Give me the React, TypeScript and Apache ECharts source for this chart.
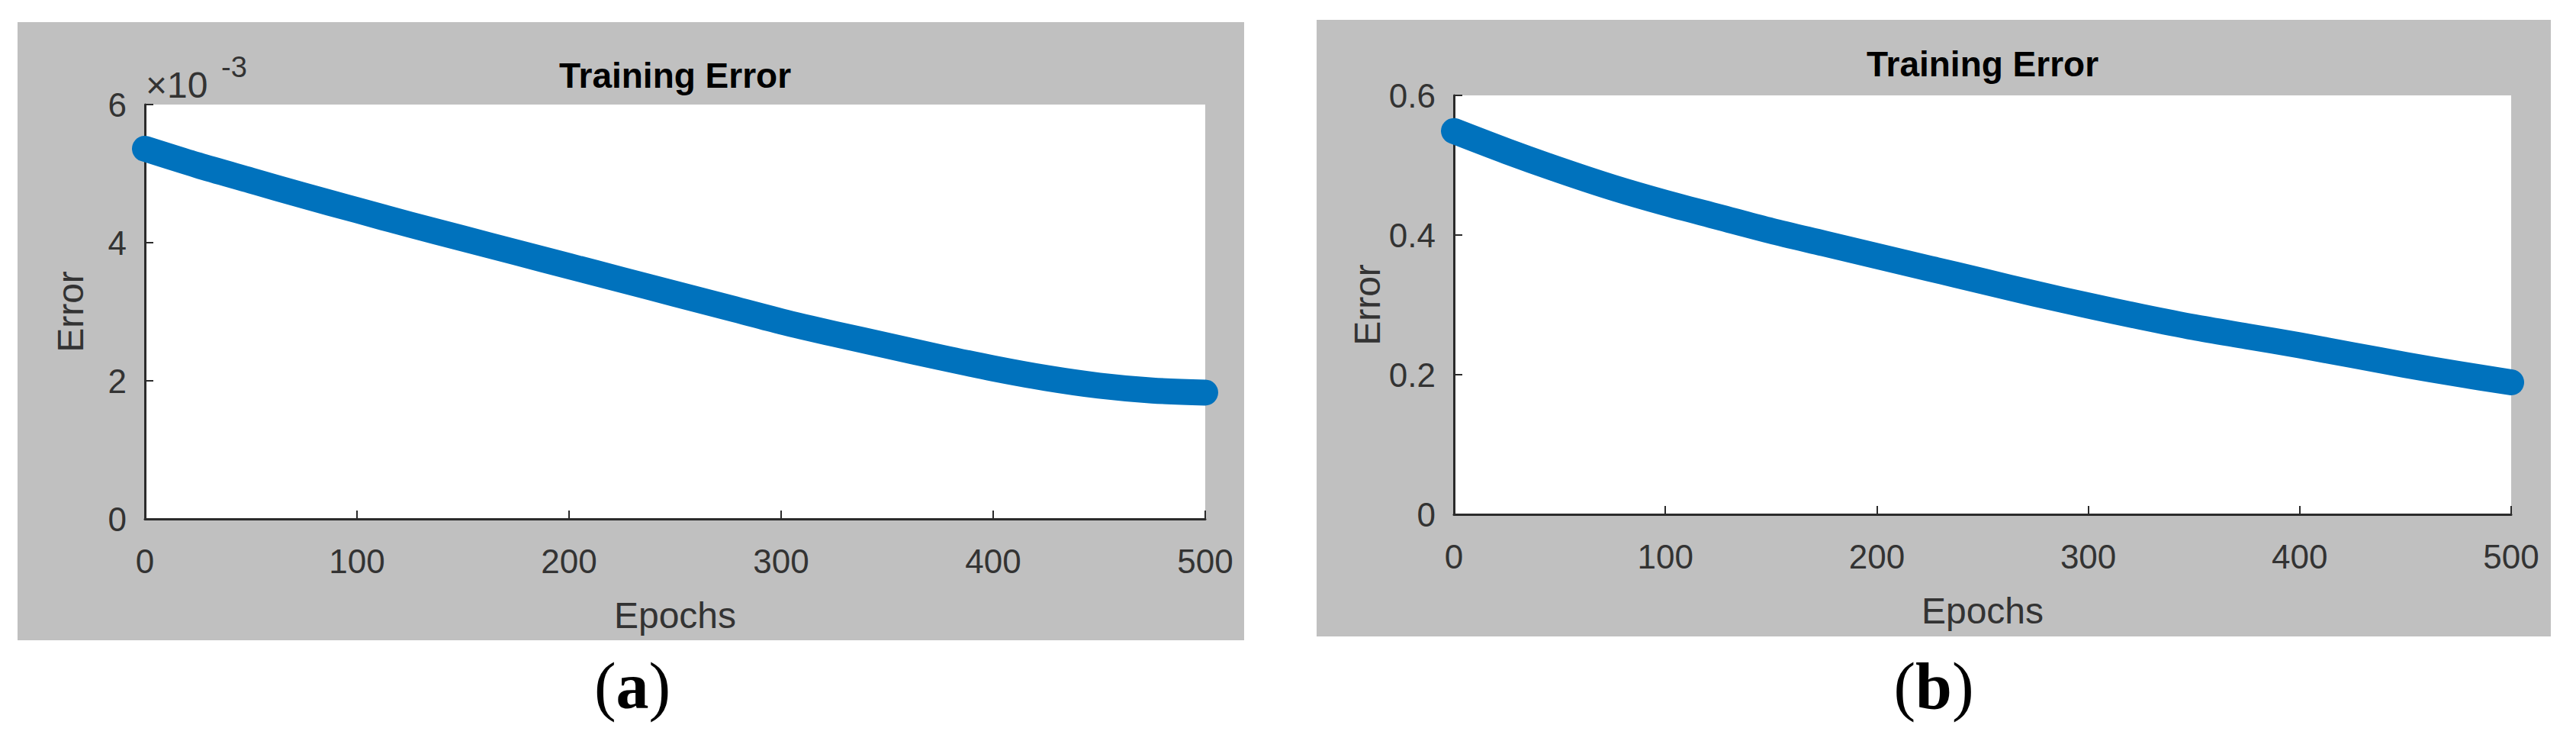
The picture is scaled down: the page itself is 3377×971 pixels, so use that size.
import React, { useEffect, useRef } from "react";
import * as echarts from "echarts";

// ---- data ----
const epochs = [0, 25, 50, 75, 100, 125, 150, 175, 200, 225, 250, 275, 300, 325, 350, 375, 400, 425, 450, 475, 500];
// panel (a): training error, in units of 1e-3
const errorA = [5.36, 5.12, 4.9, 4.68, 4.47, 4.26, 4.06, 3.86, 3.66, 3.46, 3.26, 3.06, 2.86, 2.68, 2.51, 2.34, 2.18, 2.04, 1.93, 1.86, 1.83];
const scaleA = 1e-3;
// panel (b): training error
const errorB = [0.549, 0.52, 0.493, 0.468, 0.446, 0.426, 0.406, 0.388, 0.37, 0.352, 0.334, 0.316, 0.299, 0.283, 0.268, 0.255, 0.242, 0.228, 0.214, 0.201, 0.189];

const xTicks = { min: 0, max: 500, interval: 100 };
const yTicksA = { min: 0, max: 0.006, interval: 0.002 };
const yTicksB = { min: 0, max: 0.6, interval: 0.2 };

const titleText = "Training Error";
const xName = "Epochs";
const yName = "Error";

// ---- styles ----
const FONT = "'Liberation Sans', Arial, Helvetica, sans-serif";
const SERIF = "'Liberation Serif', 'Times New Roman', serif";
const AXIS = "#2b2b2b";
const TXT = "#333333";
const LINE = "#0072BD";
const PANEL = "#c0c0c0";

function xAxisOf(gridIndex: number) {
  return {
    gridIndex,
    type: "value",
    min: xTicks.min,
    max: xTicks.max,
    interval: xTicks.interval,
    axisLine: { show: true, onZero: false, lineStyle: { color: AXIS, width: 3 } },
    axisTick: { show: true, inside: true, length: 11, lineStyle: { color: AXIS, width: 2 } },
    splitLine: { show: false },
    axisLabel: { fontSize: 44, color: TXT, fontFamily: FONT, margin: 33 },
    name: xName,
    nameLocation: "middle",
    nameGap: 102,
    nameTextStyle: { fontSize: 48, color: TXT, fontFamily: FONT },
  };
}

function yAxisOf(gridIndex: number, t: { min: number; max: number; interval: number }, fmt: (v: number) => string) {
  return {
    gridIndex,
    type: "value",
    min: t.min,
    max: t.max,
    interval: t.interval,
    axisLine: { show: true, onZero: false, lineStyle: { color: AXIS, width: 3 } },
    axisTick: { show: true, inside: true, length: 11, lineStyle: { color: AXIS, width: 2 } },
    splitLine: { show: false },
    axisLabel: { fontSize: 44, color: TXT, fontFamily: FONT, margin: 24, padding: [12, 0, 0, 0], formatter: fmt },
    name: yName,
    nameLocation: "middle",
    nameGap: 74,
    nameTextStyle: { fontSize: 48, color: TXT, fontFamily: FONT },
  };
}

export default function App() {
  const ref = useRef<HTMLDivElement>(null);

  useEffect(() => {
    if (!ref.current) return;
    const chart = echarts.init(ref.current, undefined, { renderer: "svg" });

    const option: any = {
      animation: false,
      backgroundColor: "#ffffff",
      grid: [
        { left: 190, top: 137, width: 1390, height: 543, show: true, backgroundColor: "#ffffff", borderWidth: 0, outerBoundsMode: "none" },
        { left: 1906, top: 125, width: 1386, height: 549, show: true, backgroundColor: "#ffffff", borderWidth: 0, outerBoundsMode: "none" },
      ],
      xAxis: [xAxisOf(0), xAxisOf(1)],
      yAxis: [
        yAxisOf(0, yTicksA, (v: number) => String(Math.round(v / scaleA))),
        yAxisOf(1, yTicksB, (v: number) => (v === 0 ? "0" : v.toFixed(1))),
      ],
      series: [
        {
          type: "line",
          xAxisIndex: 0,
          yAxisIndex: 0,
          data: epochs.map((e, i) => [e, errorA[i] * scaleA]),
          showSymbol: false,
          smooth: 0.3,
          clip: false,
          lineStyle: { color: LINE, width: 34, cap: "round", join: "round" },
          emphasis: { disabled: true },
        },
        {
          type: "line",
          xAxisIndex: 1,
          yAxisIndex: 1,
          data: epochs.map((e, i) => [e, errorB[i]]),
          showSymbol: false,
          smooth: 0.3,
          clip: false,
          lineStyle: { color: LINE, width: 34, cap: "round", join: "round" },
          emphasis: { disabled: true },
        },
      ],
      graphic: [
        { type: "rect", z: -100, shape: { x: 23, y: 29, width: 1608, height: 810 }, style: { fill: PANEL } },
        { type: "rect", z: -100, shape: { x: 1726, y: 26, width: 1618, height: 808 }, style: { fill: PANEL } },
        {
          type: "text", x: 885, y: 99,
          style: { text: titleText, fontSize: 46, fontWeight: "bold", fontFamily: FONT, fill: "#000", align: "center", verticalAlign: "middle" },
        },
        {
          type: "text", x: 2599, y: 84,
          style: { text: titleText, fontSize: 46, fontWeight: "bold", fontFamily: FONT, fill: "#000", align: "center", verticalAlign: "middle" },
        },
        {
          type: "text", x: 191, y: 111,
          style: { text: "\u00d710", fontSize: 48, fontFamily: FONT, fill: TXT, align: "left", verticalAlign: "middle" },
        },
        {
          type: "text", x: 290, y: 88,
          style: { text: "-3", fontSize: 38, fontFamily: FONT, fill: TXT, align: "left", verticalAlign: "middle" },
        },
        {
          type: "text", x: 829, y: 899,
          style: {
            text: "{p|(}{b|a}{p|)}", align: "center", verticalAlign: "middle",
            rich: {
              p: { fontSize: 86, fontFamily: SERIF, fill: "#000" },
              b: { fontSize: 86, fontFamily: SERIF, fontWeight: "bold", fill: "#000" },
            },
          },
        },
        {
          type: "text", x: 2535, y: 899,
          style: {
            text: "{p|(}{b|b}{p|)}", align: "center", verticalAlign: "middle",
            rich: {
              p: { fontSize: 86, fontFamily: SERIF, fill: "#000" },
              b: { fontSize: 86, fontFamily: SERIF, fontWeight: "bold", fill: "#000" },
            },
          },
        },
      ],
    };

    chart.setOption(option);
    return () => chart.dispose();
  }, []);

  return <div ref={ref} style={{ position: "absolute", left: 0, top: 0, width: 3377, height: 971 }} />;
}
